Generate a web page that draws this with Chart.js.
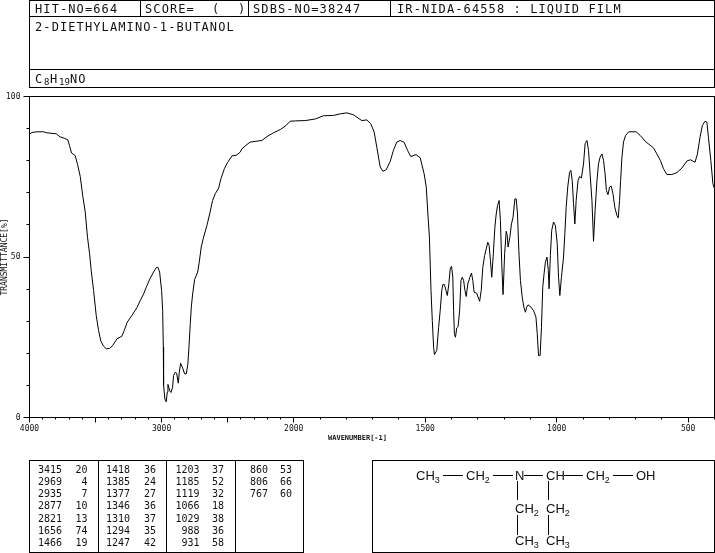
<!DOCTYPE html>
<html>
<head>
<meta charset="utf-8">
<title>2-DIETHYLAMINO-1-BUTANOL IR</title>
<script src="https://cdn.jsdelivr.net/npm/chart.js@4"></script>
<style>
html,body{margin:0;padding:0;background:#fff;width:715px;height:553px;overflow:hidden}
#c{position:absolute;left:0;top:0}
#o{position:absolute;left:0;top:0}
.h{font-family:"DejaVu Sans Mono",monospace;font-size:12px;letter-spacing:1.1px;fill:#111}
.t{font-family:"DejaVu Sans Mono",monospace;font-size:10px;fill:#111;text-anchor:end}
.s{font-family:"Liberation Sans",sans-serif;font-size:13px;fill:#111}
.s tspan.u{font-size:9px}
line,rect{stroke:#000;stroke-width:1;fill:none;shape-rendering:crispEdges}
</style>
</head>
<body>
<canvas id="c" width="715" height="553"></canvas>
<svg id="o" width="715" height="553" xmlns="http://www.w3.org/2000/svg"></svg>
<script>
const wavenumbers=[4000,3980,3944,3894,3869,3798,3768,3737,3710,3697,3682,3654,3636,3616,3596,3578,3561,3545,3533,3515,3495,3477,3460,3439,3419,3394,3371,3338,3301,3283,3260,3225,3187,3162,3136,3116,3086,3061,3040,3028,3015,3000,2992,2987,2985,2975,2965,2957,2952,2939,2929,2917,2909,2897,2886,2874,2866,2856,2843,2826,2813,2801,2793,2783,2775,2765,2750,2727,2715,2700,2682,2657,2636,2614,2594,2568,2551,2525,2500,2467,2435,2404,2392,2355,2330,2241,2203,2153,2102,2057,2027,1994,1956,1918,1887,1849,1823,1798,1773,1741,1722,1707,1694,1684,1671,1661,1648,1633,1621,1608,1595,1580,1567,1555,1535,1519,1504,1496,1489,1484,1478,1473,1468,1465,1456,1449,1443,1437,1433,1427,1421,1416,1410,1405,1400,1395,1392,1389,1385,1380,1375,1369,1364,1359,1354,1349,1344,1338,1330,1324,1319,1314,1304,1299,1293,1287,1281,1274,1268,1262,1257,1252,1247,1241,1235,1230,1225,1219,1214,1209,1204,1198,1192,1188,1185,1178,1172,1166,1159,1154,1149,1144,1138,1131,1125,1119,1114,1109,1098,1088,1079,1074,1069,1063,1058,1053,1048,1043,1037,1032,1029,1024,1019,1012,1005,998,993,988,982,974,969,964,958,951,946,941,936,931,926,919,913,906,898,892,885,879,873,866,860,854,847,841,835,828,822,816,811,805,799,793,786,779,771,766,761,757,752,746,738,726,698,683,660,632,619,606,594,581,562,543,524,505,492,474,465,455,446,436,429,423,414,406,401];
const transmittance=[88.3,88.8,89,89,88.7,88.4,87.4,87,86.5,84.7,82.4,81.6,78.8,75.1,68.8,64,56.2,51,45.8,39.6,31.8,27.1,23.8,22.2,21.4,21.5,22.4,24.5,25.3,27.1,29.7,31.8,34.2,36.4,38.5,40.6,43.4,45.3,46.7,46.8,45.3,39.6,33.3,21.9,10,5.8,4.9,7.9,10.3,8.4,7.8,9.4,13.1,14.1,13.8,10.7,14.1,16.9,15.7,13.6,13.6,16.7,21.9,29.2,34.4,38.5,43,45.3,48.4,53.1,56.2,59.8,63.4,67.6,69.7,71.5,74.4,77.5,79.5,81.5,81.7,82.7,83.7,85,85.8,86.3,87.5,88.7,89.7,91,92.3,92.4,92.5,93,94,94.1,94.6,94.9,94.3,92.5,92.7,91.5,88.9,84.2,78,76.7,77.2,79.8,83.2,85.8,86.3,85.7,83.2,81.3,81.9,80.9,75.9,71.8,62.4,56.2,39.6,30.2,21.9,19.6,20.9,28.1,33.3,39.6,41.4,41.4,39.6,38,41.6,46.3,47.1,43.7,33.3,26.1,25,27.9,28.3,33.3,42.7,43.7,42.7,39.6,37.7,41.6,43.7,45,42.7,39,38.7,37.5,36.2,39.6,46.8,50.5,52.5,54.6,53.6,48.9,43.7,51,59.3,63.4,66,67.6,61.4,47.9,38.3,51,58,56.7,53.1,56.2,60.3,62.4,68.1,68.1,63.4,52,42.7,37.5,34.4,32.8,34.4,35.1,34.4,33.3,31.3,26.1,19.3,19.3,28.1,40.6,44.8,48.4,50,45.8,40.1,50.5,58.3,60.9,59.8,54.1,43.7,38,43.7,50,57.2,65.5,71.8,76.4,77,73.8,66.6,60.3,67.6,73.8,75.1,74.6,79,85.3,86.3,83.2,75.9,67.6,54.9,64.5,73.8,79,81.1,82.1,80.1,75.9,70.7,69.4,71.8,72.1,69.7,65.5,62.9,62.2,67.6,73.8,81.1,85.8,87.9,89,89,87.9,85.8,84,82.1,80.1,77.5,75.7,75.7,76.3,77.7,79.9,80.3,79.5,82.1,87.3,91,92.3,92,87.3,80.1,72.8,71.5];
const xMajorTicks=[4000,3500,3000,2500,2000,1500,1000,500];
const xLabelledTicks=[4000,3000,2000,1500,1000,500];
const yMajorTicks=[100,50,0];
const peakColumns=[
  {waves:[3415,2969,2935,2877,2821,1656,1466],values:[20,4,7,10,13,74,19]},
  {waves:[1418,1385,1377,1346,1310,1294,1247],values:[36,24,27,36,37,35,42]},
  {waves:[1203,1185,1119,1066,1029,988,931],values:[37,52,32,18,38,36,58]},
  {waves:[860,806,767],values:[53,66,60]}
];
const titleText="2-DIETHYLAMINO-1-BUTANOL";

/* IR wavenumber axis: the scale changes by a factor of two at 2000 cm-1 */
class WaveScale extends Chart.LinearScale{
  getPixelForValue(v){
    const split=0.3857, d=v>=2000?(4000-v)/2000*split:split+(2000-v)/1600*(1-split);
    return this.left+d*this.width;
  }
}
WaveScale.id='wave';
WaveScale.defaults=Chart.LinearScale.defaults;
Chart.register(WaveScale);

function fitFlat(size){return s=>{
  if(s.isHorizontal())s.height=size;else s.width=size;
  s.paddingLeft=s.paddingRight=s.paddingTop=s.paddingBottom=0;
};}
const tickFont={family:'"DejaVu Sans Mono",monospace',size:8};
const frame={id:'frame',afterDatasetsDraw(ch){
  const a=ch.chartArea,g=ch.ctx;
  g.save();g.strokeStyle='#000';g.lineWidth=1;
  g.strokeRect(a.left,a.top,a.right-a.left,a.bottom-a.top);
  g.restore();
}};
new Chart(document.getElementById('c'),{
  type:'line',
  data:{datasets:[{data:wavenumbers.map((w,i)=>({x:w,y:transmittance[i]})),
    borderColor:'#000',borderWidth:1,pointRadius:0,tension:0,fill:false,xAxisID:'x',yAxisID:'y'}]},
  plugins:[frame],
  options:{
    responsive:false,animation:false,devicePixelRatio:1,
    layout:{padding:{left:0,top:96.5,right:0.5,bottom:0}},
    plugins:{legend:{display:false},tooltip:{enabled:false},title:{display:false}},
    scales:{
      x:{type:'wave',position:'bottom',min:400,max:4000,weight:1,
        afterBuildTicks:s=>{s.ticks=xMajorTicks.map(v=>({value:v}));},
        afterFit:fitFlat(135.5),
        border:{display:true,color:'#000',width:1},
        grid:{drawOnChartArea:false,drawTicks:true,tickLength:5,tickColor:'#000',tickWidth:1},
        ticks:{autoSkip:false,maxRotation:0,minRotation:0,color:'#111',font:tickFont,padding:2,
          callback:v=>xLabelledTicks.includes(v)?String(v):''}},
      x2:{type:'wave',position:'bottom',min:400,max:4000,weight:0,
        afterFit:fitFlat(0),
        border:{display:false},
        grid:{drawOnChartArea:false,drawTicks:true,tickLength:2,tickColor:'#000',tickWidth:1},
        ticks:{stepSize:100,display:true,autoSkip:false,maxRotation:0,color:'rgba(0,0,0,0)',font:{size:1},padding:0,callback:()=>''}},
      y:{type:'linear',position:'left',min:0,max:100,weight:1,
        afterBuildTicks:s=>{s.ticks=yMajorTicks.map(v=>({value:v}));},
        afterFit:fitFlat(29.5),
        border:{display:true,color:'#000',width:1},
        grid:{drawOnChartArea:false,drawTicks:true,tickLength:6,tickColor:'#000',tickWidth:1},
        title:{display:true,text:'TRANSMITTANCE[%]',color:'#111',padding:0,
          font:{family:'"DejaVu Sans Mono",monospace',size:8}},
        ticks:{color:'#111',font:tickFont,padding:3,autoSkip:false,callback:v=>String(v)}},
      y2:{type:'linear',position:'left',min:0,max:100,weight:0,
        afterFit:fitFlat(0),
        border:{display:false},
        grid:{drawOnChartArea:false,drawTicks:true,tickLength:3,tickColor:'#000',tickWidth:1},
        ticks:{stepSize:10,autoSkip:false,color:'rgba(0,0,0,0)',font:{size:1},padding:0,callback:()=>''}}
    }
  }
});

/* header, peak table, structure */
const NS='http://www.w3.org/2000/svg', svg=document.getElementById('o');
function el(n,a,t){const e=document.createElementNS(NS,n);for(const k in a)e.setAttribute(k,a[k]);if(t!=null)e.textContent=t;svg.appendChild(e);return e;}
function ln(a,b,c,d){el('line',{x1:a,y1:b,x2:c,y2:d});}
function hd(x,y,t){el('text',{x,y,class:'h'},t);}
el('rect',{x:29.5,y:0.5,width:685,height:87});
ln(29.5,16.5,714.5,16.5);ln(29.5,69.5,714.5,69.5);
ln(140.5,0.5,140.5,16.5);ln(248.5,0.5,248.5,16.5);ln(390.5,0.5,390.5,16.5);
hd(35,13,'HIT-NO=664');hd(145,13,'SCORE=');hd(212,13,'(');hd(238,13,')');hd(253,13,'SDBS-NO=38247');
hd(397,13,'IR-NIDA-64558 : LIQUID FILM');hd(35,31,titleText);
hd(35,83,'C');el('text',{x:44,y:85,class:'h',style:'font-size:9px;letter-spacing:0'},'8');
hd(50,83,'H');el('text',{x:59,y:85,class:'h',style:'font-size:9px;letter-spacing:.2px'},'19');
hd(70,83,'NO');
el('text',{x:328,y:440,style:'font-family:"DejaVu Sans Mono",monospace;font-size:7px;font-weight:bold;fill:#111'},'WAVENUMBER[-1]');

el('rect',{x:29.5,y:460.5,width:274,height:92});
ln(98.5,460.5,98.5,552.5);ln(166.5,460.5,166.5,552.5);ln(235.5,460.5,235.5,552.5);
const waveRight=[62,130,199.5,268], valRight=[87.5,156,224,292];
peakColumns.forEach((c,i)=>c.waves.forEach((w,r)=>{
  const y=472.5+r*12.25;
  el('text',{x:waveRight[i],y,class:'t'},String(w));
  el('text',{x:valRight[i],y,class:'t'},String(c.values[r]));
}));

el('rect',{x:372.5,y:460.5,width:342,height:92});
function chem(x,y,base,sub){
  const t=el('text',{x,y,class:'s'},base);
  if(sub){const s=document.createElementNS(NS,'tspan');s.setAttribute('class','u');s.setAttribute('dy','3');s.textContent=sub;t.appendChild(s);}
}
chem(416,479.5,'CH','3');ln(443,475.5,463,475.5);
chem(466,479.5,'CH','2');ln(493,475.5,513,475.5);
chem(515,479.5,'N');ln(524,475.5,543,475.5);
chem(546,479.5,'CH');ln(564,475.5,583,475.5);
chem(586,479.5,'CH','2');ln(613,475.5,633,475.5);
chem(636,479.5,'OH');
ln(517.5,481,517.5,500);ln(548.5,481,548.5,500);
chem(515,513,'CH','2');chem(546,513,'CH','2');
ln(517.5,515,517.5,535);ln(548.5,515,548.5,535);
chem(515,544.5,'CH','3');chem(546,544.5,'CH','3');
</script>
</body>
</html>
